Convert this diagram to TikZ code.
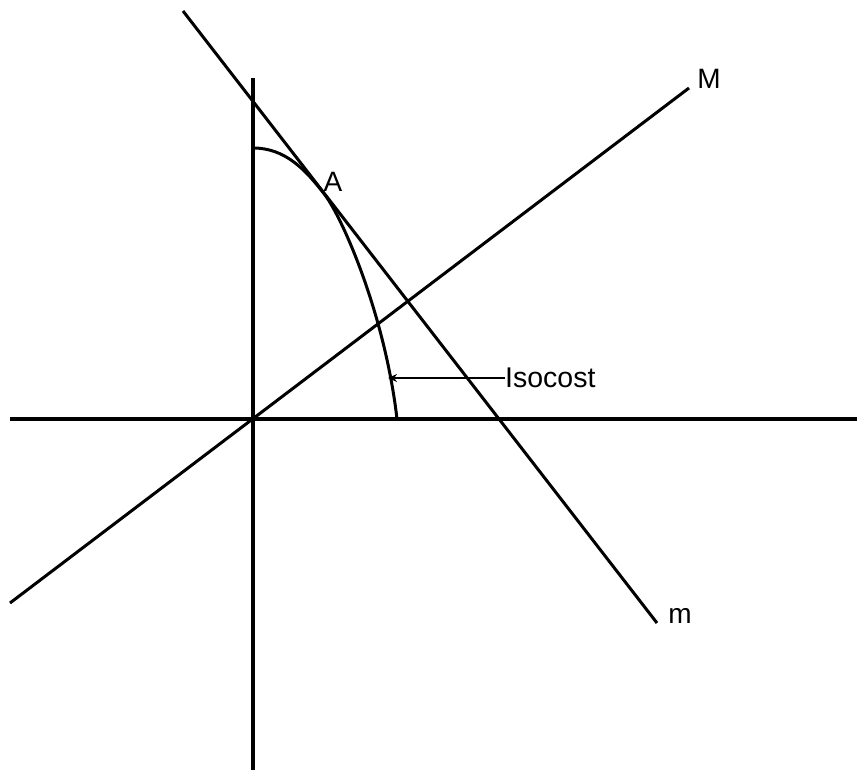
\documentclass[tikz,border=0pt]{standalone}
\usepackage{fontspec}
\setmainfont{Liberation Sans}
\usetikzlibrary{arrows.meta}
\begin{document}
\begin{tikzpicture}[x=1pt,y=-1pt,
  axis/.style={line width=3.8pt},
  ray/.style={line width=3pt},
  lbl/.style={inner sep=0pt,font=\fontsize{28}{31}\selectfont},
  pointer/.style={line width=2.2pt,-{Stealth[length=9pt,width=8pt]}}]
\useasboundingbox (0,0) rectangle (857,771);
% axes
\coordinate (yTop) at (253,78);
\coordinate (yBot) at (253,770);
\coordinate (xL) at (10,419);
\coordinate (xR) at (857,419);
\draw[axis] (yTop) -- (yBot);
\draw[axis] (xL) -- (xR);
% lines
\coordinate (mStart) at (183,11);
\coordinate (mEnd) at (657,623);
\coordinate (MStart) at (10,603);
\coordinate (MEnd) at (689,88);
\draw[ray] (mStart) -- (mEnd);
\draw[ray] (MStart) -- (MEnd);
% isocost curve
\coordinate (cTop) at (253,148);
\coordinate (T) at (325,195);
\coordinate (cBot) at (397,419);
\draw[ray] (cTop) .. controls (285,148) and (305,169) .. (T)
  .. controls (343,219) and (385,315) .. (cBot);
% labels
\node[lbl] (M) at (709,79) {M};
\node[lbl] (m) at (680,616) {m};
\node[lbl] (A) at (333,182) {A};
\node[lbl,anchor=west,font=\fontsize{28.5}{31}\selectfont] (iso) at (505,378) {Isocost};
\coordinate (tip) at (388,380);
\draw[pointer] (iso.west) -- (iso.west -| tip);
\end{tikzpicture}
\end{document}
